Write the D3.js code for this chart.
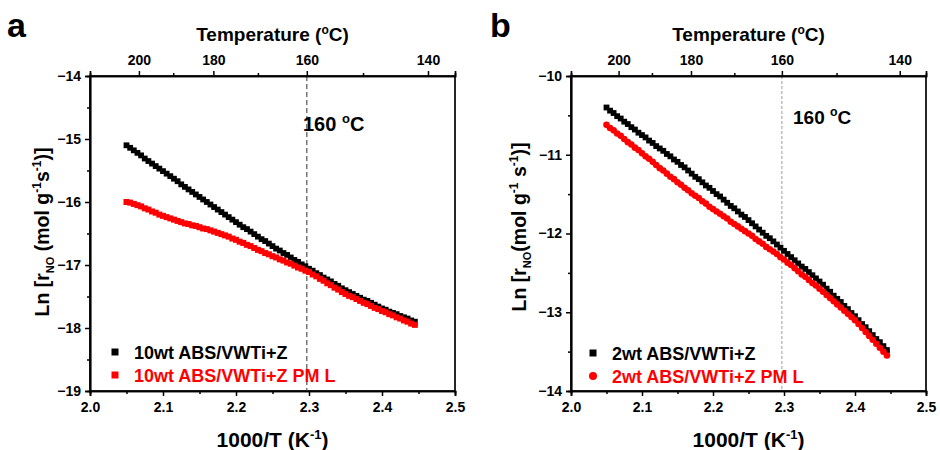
<!DOCTYPE html>
<html>
<head>
<meta charset="utf-8">
<script src="https://cdn.jsdelivr.net/npm/d3@7"></script>
<style>
  html, body { margin: 0; padding: 0; background: #fff; }
  svg { display: block; font-family: "Liberation Sans", Arial, sans-serif; }
</style>
</head>
<body>
<svg id="chart" width="940" height="450"></svg>
<script>
// ---------- DATA (1000/T in K^-1, Ln r_NO) ----------
const xVals = [
  2.050, 2.055, 2.060, 2.065, 2.070, 2.075, 2.080, 2.085, 2.090, 2.095,
  2.100, 2.105, 2.110, 2.115, 2.120, 2.125, 2.130, 2.135, 2.140, 2.145,
  2.150, 2.155, 2.160, 2.165, 2.170, 2.175, 2.180, 2.185, 2.190, 2.195,
  2.200, 2.205, 2.210, 2.215, 2.220, 2.225, 2.230, 2.235, 2.240, 2.245,
  2.250, 2.255, 2.260, 2.265, 2.270, 2.275, 2.280, 2.285, 2.290, 2.295,
  2.300, 2.305, 2.310, 2.315, 2.320, 2.325, 2.330, 2.335, 2.340, 2.345,
  2.350, 2.355, 2.360, 2.365, 2.370, 2.375, 2.380, 2.385, 2.390, 2.395,
  2.400, 2.405, 2.410, 2.415, 2.420, 2.425, 2.430, 2.435, 2.440, 2.445
];
const a10wt = [
  -15.10, -15.14, -15.18, -15.22, -15.26, -15.31, -15.35, -15.39, -15.43, -15.47,
  -15.51, -15.55, -15.59, -15.63, -15.67, -15.72, -15.76, -15.80, -15.84, -15.88,
  -15.92, -15.96, -16.00, -16.04, -16.08, -16.12, -16.16, -16.20, -16.24, -16.28,
  -16.32, -16.36, -16.40, -16.43, -16.47, -16.51, -16.55, -16.59, -16.62, -16.66,
  -16.70, -16.74, -16.77, -16.81, -16.84, -16.88, -16.92, -16.95, -16.99, -17.02,
  -17.06, -17.09, -17.13, -17.16, -17.20, -17.23, -17.26, -17.30, -17.33, -17.37,
  -17.40, -17.43, -17.46, -17.49, -17.52, -17.55, -17.57, -17.60, -17.63, -17.66,
  -17.69, -17.71, -17.74, -17.76, -17.78, -17.81, -17.83, -17.85, -17.88, -17.90
];
const a10wtPML = [
  -16.00, -16.01, -16.03, -16.05, -16.07, -16.10, -16.12, -16.15, -16.17, -16.20,
  -16.22, -16.24, -16.26, -16.28, -16.30, -16.32, -16.34, -16.35, -16.37, -16.38,
  -16.40, -16.42, -16.43, -16.45, -16.47, -16.49, -16.51, -16.53, -16.55, -16.58,
  -16.60, -16.63, -16.65, -16.68, -16.70, -16.73, -16.76, -16.78, -16.81, -16.83,
  -16.86, -16.88, -16.91, -16.93, -16.96, -16.98, -17.01, -17.04, -17.06, -17.09,
  -17.11, -17.15, -17.18, -17.22, -17.25, -17.29, -17.32, -17.36, -17.39, -17.43,
  -17.46, -17.49, -17.51, -17.54, -17.57, -17.60, -17.62, -17.65, -17.68, -17.70,
  -17.73, -17.75, -17.78, -17.80, -17.83, -17.85, -17.88, -17.90, -17.93, -17.95
];
const b2wt = [
  -10.40, -10.44, -10.47, -10.51, -10.54, -10.58, -10.61, -10.65, -10.68, -10.72,
  -10.75, -10.78, -10.82, -10.85, -10.89, -10.92, -10.95, -10.99, -11.02, -11.06,
  -11.09, -11.13, -11.16, -11.20, -11.24, -11.28, -11.31, -11.35, -11.39, -11.42,
  -11.46, -11.50, -11.53, -11.57, -11.61, -11.65, -11.68, -11.72, -11.76, -11.79,
  -11.83, -11.87, -11.91, -11.95, -11.99, -12.03, -12.06, -12.10, -12.14, -12.18,
  -12.22, -12.26, -12.30, -12.34, -12.38, -12.42, -12.45, -12.49, -12.53, -12.57,
  -12.61, -12.65, -12.70, -12.74, -12.79, -12.83, -12.87, -12.92, -12.96, -13.01,
  -13.05, -13.10, -13.15, -13.19, -13.24, -13.29, -13.34, -13.38, -13.43, -13.48
];
const b2wtPML = [
  -10.62, -10.66, -10.69, -10.73, -10.76, -10.80, -10.84, -10.87, -10.91, -10.94,
  -10.98, -11.02, -11.05, -11.09, -11.13, -11.17, -11.20, -11.24, -11.28, -11.31,
  -11.35, -11.38, -11.42, -11.45, -11.49, -11.52, -11.55, -11.59, -11.62, -11.66,
  -11.69, -11.72, -11.75, -11.78, -11.81, -11.85, -11.88, -11.91, -11.94, -11.97,
  -12.00, -12.03, -12.07, -12.10, -12.13, -12.17, -12.20, -12.23, -12.26, -12.30,
  -12.33, -12.37, -12.40, -12.44, -12.48, -12.52, -12.55, -12.59, -12.63, -12.66,
  -12.70, -12.74, -12.78, -12.82, -12.86, -12.90, -12.94, -12.98, -13.02, -13.06,
  -13.10, -13.15, -13.20, -13.25, -13.30, -13.35, -13.40, -13.45, -13.50, -13.55
];

const xTicks = [2.0, 2.1, 2.2, 2.3, 2.4, 2.5];
const xMinorTicks = [2.05, 2.15, 2.25, 2.35, 2.45];
const yTicksA = [-14, -15, -16, -17, -18, -19];
const yMinorA = [-14.5, -15.5, -16.5, -17.5, -18.5];
const yTicksB = [-10, -11, -12, -13, -14];
const yMinorB = [-10.5, -11.5, -12.5, -13.5];
// Top temperature axis: labels and where they sit on the 1000/T axis
const tempLabels = [200, 180, 160, 140];
const tempPos = [2.067, 2.169, 2.297, 2.463];
const tempMinorPos = [2.114, 2.230, 2.374];
const refLinePos = 2.297;   // 160 °C
const legendA = ["10wt ABS/VWTi+Z", "10wt ABS/VWTi+Z PM L"];
const legendB = ["2wt ABS/VWTi+Z", "2wt ABS/VWTi+Z PM L"];

// ---------- DRAW ----------
const svg = d3.select("#chart");
const FONT = "'Liberation Sans', Arial, sans-serif";

function drawPanel(cfg) {
  const g = svg.append("g");
  const x = d3.scaleLinear().domain([2.0, 2.5]).range([cfg.left, cfg.right]);
  const y = d3.scaleLinear().domain(cfg.yDomain).range([cfg.top, cfg.bottom]);

  // panel letter
  g.append("text").attr("x", cfg.letterX).attr("y", 37)
    .attr("font-size", 34).attr("font-weight", "bold").attr("font-family", FONT)
    .text(cfg.letter);

  // frame
  g.append("rect").attr("x", cfg.left).attr("y", cfg.top)
    .attr("width", cfg.right - cfg.left).attr("height", cfg.bottom - cfg.top)
    .attr("fill", "none").attr("stroke", "#000").attr("stroke-width", 1.7);

  // reference dashed line at 160 °C
  g.append("line")
    .attr("x1", x(refLinePos)).attr("x2", x(refLinePos))
    .attr("y1", cfg.top).attr("y2", cfg.bottom)
    .attr("stroke", cfg.refColor).attr("stroke-width", 1.2)
    .attr("stroke-dasharray", cfg.refDash);

  // axes
  const styleAxis = sel => {
    sel.select(".domain").attr("stroke-width", 1.7);
    sel.selectAll(".tick line").attr("stroke-width", 1.5);
    sel.selectAll(".tick text").attr("font-size", 14).attr("font-weight", "bold")
      .attr("font-family", FONT).attr("fill", "#000");
  };
  const bottom = g.append("g").attr("transform", `translate(0,${cfg.bottom})`)
    .call(d3.axisBottom(x).tickValues(xTicks).tickSize(5).tickPadding(6).tickFormat(d3.format(".1f")));
  styleAxis(bottom);
  const bottomMinor = g.append("g").attr("transform", `translate(0,${cfg.bottom})`)
    .call(d3.axisBottom(x).tickValues(xMinorTicks).tickSize(3).tickFormat(""));
  styleAxis(bottomMinor);

  const left = g.append("g").attr("transform", `translate(${cfg.left},0)`)
    .call(d3.axisLeft(y).tickValues(cfg.yTicks).tickSize(5).tickPadding(4).tickFormat(d3.format("d")));
  styleAxis(left);
  const leftMinor = g.append("g").attr("transform", `translate(${cfg.left},0)`)
    .call(d3.axisLeft(y).tickValues(cfg.yMinor).tickSize(3).tickFormat(""));
  styleAxis(leftMinor);

  const top = g.append("g").attr("transform", `translate(0,${cfg.top})`)
    .call(d3.axisTop(x).tickValues(tempPos).tickSize(5).tickPadding(6)
      .tickFormat((d, i) => tempLabels[i]));
  styleAxis(top);
  const topMinor = g.append("g").attr("transform", `translate(0,${cfg.top})`)
    .call(d3.axisTop(x).tickValues(tempMinorPos).tickSize(3).tickFormat(""));
  styleAxis(topMinor);

  // data
  const pts = xVals.map((xv, i) => ({ x: xv, a: cfg.s1[i], b: cfg.s2[i] }));
  g.append("g").selectAll("rect").data(pts).join("rect")
    .attr("x", d => x(d.x) - 2.9).attr("y", d => y(d.a) - 2.9)
    .attr("width", 5.8).attr("height", 5.8).attr("fill", "#000");
  if (cfg.redShape === "square") {
    g.append("g").selectAll("rect").data(pts).join("rect")
      .attr("x", d => x(d.x) - 3).attr("y", d => y(d.b) - 3)
      .attr("width", 6).attr("height", 6).attr("fill", "#ff0000");
  } else {
    g.append("g").selectAll("circle").data(pts).join("circle")
      .attr("cx", d => x(d.x)).attr("cy", d => y(d.b)).attr("r", 3.3).attr("fill", "#ff0000");
  }

  // 160 °C label
  const lab = g.append("text").attr("x", cfg.annX).attr("y", cfg.annY)
    .attr("font-size", cfg.annSize).attr("font-weight", "bold").attr("font-family", FONT);
  lab.append("tspan").text("160 ");
  lab.append("tspan").attr("dy", -8).attr("font-size", cfg.annSize * 0.65).text("o");
  lab.append("tspan").attr("dy", 8).text("C");

  // legend
  const lg = g.append("g").attr("font-family", FONT).attr("font-weight", "bold").attr("font-size", 18);
  lg.append("rect").attr("x", cfg.legX - 3.5).attr("y", cfg.legY - 3.5).attr("width", 7).attr("height", 7).attr("fill", "#000");
  lg.append("text").attr("x", cfg.legX + 19).attr("y", cfg.legY + 6.5).attr("fill", "#000").text(cfg.legend[0]);
  if (cfg.redShape === "square") {
    lg.append("rect").attr("x", cfg.legX - 3.5).attr("y", cfg.legY + 23 - 3.5).attr("width", 7).attr("height", 7).attr("fill", "#ff0000");
  } else {
    lg.append("circle").attr("cx", cfg.legX).attr("cy", cfg.legY + 23).attr("r", 4).attr("fill", "#ff0000");
  }
  lg.append("text").attr("x", cfg.legX + 19).attr("y", cfg.legY + 29.5).attr("fill", "#ff0000").text(cfg.legend[1]);

  // top axis title
  const tt = g.append("text").attr("x", (cfg.left + cfg.right) / 2).attr("y", 41)
    .attr("text-anchor", "middle").attr("font-size", 19).attr("font-weight", "bold").attr("font-family", FONT);
  tt.append("tspan").text("Temperature (");
  tt.append("tspan").attr("dy", -7).attr("font-size", 12).text("o");
  tt.append("tspan").attr("dy", 7).text("C)");

  // bottom axis title
  const bt = g.append("text").attr("x", (cfg.left + cfg.right) / 2).attr("y", 447)
    .attr("text-anchor", "middle").attr("font-size", 21).attr("font-weight", "bold").attr("font-family", FONT);
  bt.append("tspan").text("1000/T (K");
  bt.append("tspan").attr("dy", -8).attr("font-size", 13).text("-1");
  bt.append("tspan").attr("dy", 8).text(")");

  // y axis title
  const yt = g.append("text")
    .attr("transform", `translate(${cfg.yTitleX},${cfg.yTitleY}) rotate(-90)`)
    .attr("text-anchor", "middle").attr("font-size", 19.5).attr("font-weight", "bold").attr("font-family", FONT);
  yt.append("tspan").text("Ln [r");
  yt.append("tspan").attr("dy", 5).attr("font-size", 11).text("NO");
  yt.append("tspan").attr("dy", -5).text(cfg.yTitleMid);
  yt.append("tspan").attr("dy", -8).attr("font-size", 12).text("-1");
  yt.append("tspan").attr("dy", 8).text(cfg.yTitleS);
  yt.append("tspan").attr("dy", -8).attr("font-size", 12).text("-1");
  yt.append("tspan").attr("dy", 8).text(")]");
}

drawPanel({
  letter: "a", letterX: 7,
  left: 90, right: 455, top: 76, bottom: 391,
  yDomain: [-14, -19], yTicks: yTicksA, yMinor: yMinorA,
  s1: a10wt, s2: a10wtPML, redShape: "square",
  refColor: "#555", refDash: "5,3",
  annX: 303, annY: 131, annSize: 20,
  legX: 115, legY: 352, legend: legendA,
  yTitleX: 49, yTitleY: 232, yTitleMid: " (mol g", yTitleS: "s"
});
drawPanel({
  letter: "b", letterX: 490,
  left: 571, right: 926, top: 76, bottom: 391,
  yDomain: [-10, -14], yTicks: yTicksB, yMinor: yMinorB,
  s1: b2wt, s2: b2wtPML, redShape: "circle",
  refColor: "#aaa", refDash: "3,2",
  annX: 793, annY: 124, annSize: 19,
  legX: 593, legY: 353, legend: legendB,
  yTitleX: 526, yTitleY: 227, yTitleMid: "(mol g", yTitleS: " s"
});
</script>
</body>
</html>
